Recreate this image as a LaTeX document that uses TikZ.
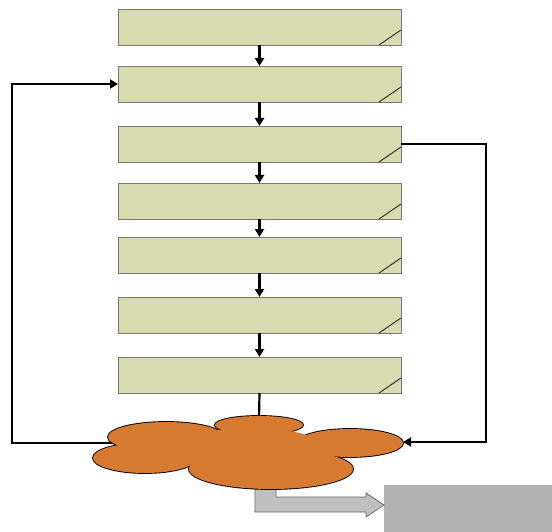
\documentclass[tikz,border=0pt]{standalone}
\usetikzlibrary{arrows.meta}
\definecolor{boxfill}{RGB}{216,219,176}
\definecolor{boxline}{RGB}{120,120,120}
\definecolor{cloudfill}{RGB}{214,122,50}
\definecolor{arrowgray}{RGB}{192,192,192}
\definecolor{boxgray}{RGB}{178,178,178}
\tikzset{
  stepbox/.style={rectangle, draw=boxline, fill=boxfill, line width=0.9pt,
    minimum width=283pt, minimum height=36pt, inner sep=0pt, outer sep=0pt},
  conn/.style={line width=2.2pt, -{Triangle[length=8pt,width=9pt]}},
  plainconn/.style={line width=2.2pt},
  cornerline/.style={line width=0.9pt, draw=black!85},
  cloudedge/.style={draw=black, line width=1.8pt},
  cloudbody/.style={fill=cloudfill},
}
\begin{document}
\begin{tikzpicture}[x=1pt,y=-1pt]
\useasboundingbox (0,0) rectangle (552,532);
% step boxes
\node[stepbox] (b1) at (259.5,27) {};
\node[stepbox] (b2) at (259.5,84) {};
\node[stepbox] (b3) at (259.5,144) {};
\node[stepbox] (b4) at (259.5,201) {};
\node[stepbox] (b5) at (259.5,255) {};
\node[stepbox] (b6) at (259.5,315) {};
\node[stepbox] (b7) at (259.5,375) {};
\foreach \b in {b1,b2,b3,b4,b5,b6,b7}
  \draw[cornerline] ([xshift=-22pt]\b.south east) -- ([yshift=15pt]\b.south east);
% vertical arrows
\draw[conn] (b1.south) -- (b2.north);
\draw[conn] (b2.south) -- (b3.north);
\draw[conn] (b3.south) -- (b4.north);
\draw[conn] (b4.south) -- (b5.north);
\draw[conn] (b5.south) -- (b6.north);
\draw[conn] (b6.south) -- (b7.north);
% cloud anchor coordinates
\coordinate (ctop) at (259,420);
\coordinate (cright) at (403,442);
\coordinate (cleft) at (125,443);
\coordinate (rcorner) at (486,144);
\coordinate (rlow) at (486,442);
\coordinate (lcorner) at (12,443);
\draw[plainconn] (b7.south) -- (ctop);
\draw[conn] (b3.east) -- (rcorner) -- (rlow) -- (cright);
\draw[conn] (cleft) -- (lcorner) |- (b2.west);
% output box and arrow
\node[rectangle, fill=boxgray, minimum width=168pt, minimum height=47pt, inner sep=0pt, outer sep=0pt] (out) at (468,508.5) {};
\coordinate (atip) at (out.west |- 0,505);
\draw[draw=black!60, fill=arrowgray, line width=0.7pt]
  (255,478) -- (255,512) -- (366,512) -- (366,517) -- (atip) -- (366,493) -- (366,497) -- (276,497) -- (276,478) -- cycle;
% cloud
\foreach \cx/\cy/\rx/\ry in {166/437/58/15, 145/458/52/15, 259/425/44/9, 350/443/53/14, 271/469/82/20}
  \draw[cloudedge] (\cx,\cy) ellipse ({\rx} and {\ry});
\foreach \cx/\cy/\rx/\ry in {166/437/58/15, 145/458/52/15, 259/425/44/9, 350/443/53/14, 271/469/82/20, 250/448/75/20}
  \fill[cloudbody] (\cx,\cy) ellipse ({\rx} and {\ry});
\end{tikzpicture}
\end{document}
